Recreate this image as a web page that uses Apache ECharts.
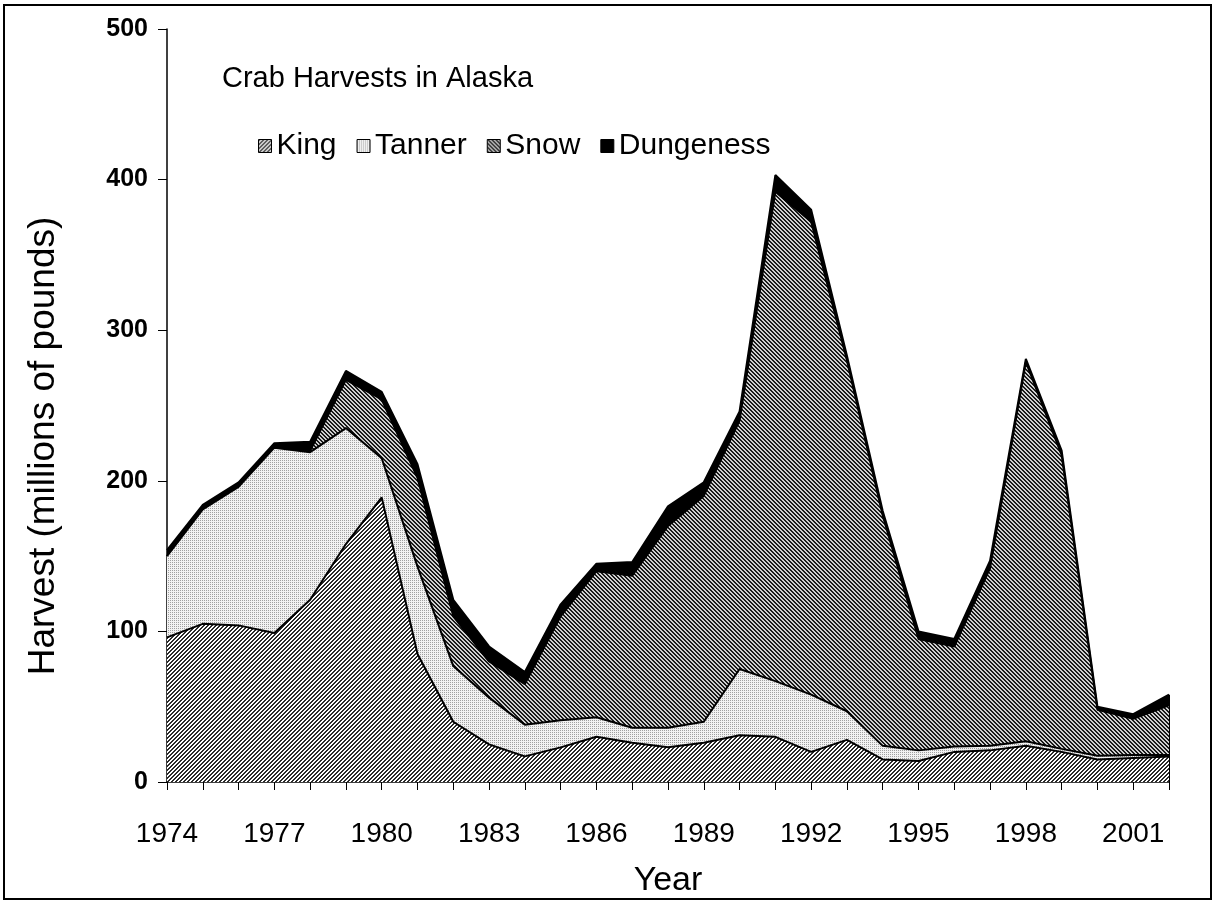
<!DOCTYPE html>
<html><head><meta charset="utf-8">
<script src="https://cdn.jsdelivr.net/npm/echarts@6/dist/echarts.min.js"></script>
<style>html,body{margin:0;padding:0;background:#fff}#c{width:1215px;height:903px}</style>
</head><body><div id="c"></div>
<script>
// ---- data (millions of pounds) ----
const years = ['1974','1975','1976','1977','1978','1979','1980','1981','1982','1983','1984','1985','1986','1987','1988','1989','1990','1991','1992','1993','1994','1995','1996','1997','1998','1999','2000','2001','2002'];
const king = [96,105,104,99,121,158,189,85,40,25,17,23,30,26,23,26,31,30,20,28,15,14,20,21,24,20,15,16,17];
const tanner = [54,76,92,123,98,77,26,58,37,31,21,18,13,10,13,14,44,37,38,19,9,7,3.5,3,3,2,2.5,2,1];
const snow = [0,0,0,0,1,32,39,59,33,24,27,69,97,101,134,150,165,325,314,233,153,74,66.5,118,252,195,30.5,24,33];
const dungeness = [4,3,3,3,6,6,5,9,11,10,8,8,5,9,13,9,6,11,8,3,3,5,5,5,2,3,2,3,7];
const seriesNames = ['King','Tanner','Snow','Dungeness'];
const titleText = 'Crab Harvests in Alaska';
const xName = 'Year';
const yName = 'Harvest (millions of pounds)';

// ---- fill patterns ----
function pattern(fn) {
  const c = document.createElement('canvas');
  c.width = 8; c.height = 8;
  const ctx = c.getContext('2d');
  for (let y = 0; y < 8; y++) for (let x = 0; x < 8; x++) {
    ctx.fillStyle = fn(x, y);
    ctx.fillRect(x, y, 1, 1);
  }
  return { image: c, repeat: 'repeat' };
}
const kingFill = pattern((x, y) => ((x + y) & 3) < 2 ? '#2a2a2a' : '#ffffff');
const tannerFill = pattern((x, y) => (x % 2 === 0 && y % 2 === 0) ? '#a0a0a0' : '#f2f2f2');
const snowFill = pattern((x, y) => ((x - y + 8) & 3) < 2 ? '#1a1a1a' : '#cfcfcf');
const fills = [kingFill, tannerFill, snowFill, '#000000'];
const values = [king, tanner, snow, dungeness];

const total = years.map((_, i) => king[i] + tanner[i] + snow[i] + dungeness[i]);
const last = years.length - 1;

const FONT = '"Liberation Sans", Arial, sans-serif';

const series = seriesNames.map((name, k) => ({
  name,
  type: 'line',
  stack: 'crab',
  data: values[k],
  symbol: 'none',
  z: 10 - k,
  lineStyle: { color: '#000', width: 2 },
  itemStyle: { color: '#000' },
  areaStyle: { color: fills[k], opacity: 1 },
  emphasis: { disabled: true },
  markLine: k === 0 ? {
    silent: true, symbol: 'none', label: { show: false },
    lineStyle: { color: '#000', width: 2, type: 'solid' },
    data: [[{ coord: [years[last], 0] }, { coord: [years[last], total[last]] }]]
  } : undefined
}));

const chart = echarts.init(document.getElementById('c'), null, { renderer: 'canvas' });
chart.setOption({
  backgroundColor: '#fff',
  animation: false,
  title: {
    text: titleText, left: 217, top: 59,
    textStyle: { fontFamily: FONT, fontSize: 29, fontWeight: 'normal', color: '#000' }
  },
  legend: {
    left: 253, top: 126, itemWidth: 13, itemHeight: 13, itemGap: 20,
    textStyle: { fontFamily: FONT, fontSize: 30, color: '#000' },
    data: seriesNames.map((n, k) => ({
      name: n, icon: 'rect',
      itemStyle: { color: fills[k], borderColor: '#000', borderWidth: 1 }
    }))
  },
  grid: { left: 167, right: 46, top: 29, bottom: 120 },
  xAxis: {
    type: 'category', data: years, boundaryGap: false,
    name: xName, nameLocation: 'middle', nameGap: 82,
    nameTextStyle: { fontFamily: FONT, fontSize: 34, color: '#000' },
    axisLine: { lineStyle: { color: '#000', width: 1.5 } },
    axisTick: { show: true, interval: 0, length: 8, lineStyle: { color: '#000', width: 1 } },
    axisLabel: { interval: 2, margin: 38, fontFamily: FONT, fontSize: 28, color: '#000' },
    splitLine: { show: false }
  },
  yAxis: {
    type: 'value', min: 0, max: 500, interval: 100,
    axisLine: { show: true, lineStyle: { color: '#000', width: 1.5 } },
    axisTick: { show: true, length: 9, lineStyle: { color: '#000', width: 1 } },
    axisLabel: { margin: 19, fontFamily: FONT, fontSize: 25, fontWeight: 'bold', color: '#000' },
    splitLine: { show: false }
  },
  graphic: [
    { type: 'rect', silent: true, z: 100,
      shape: { x: 4, y: 5, width: 1207, height: 894 },
      style: { fill: null, stroke: '#000', lineWidth: 2 } },
    { type: 'text', silent: true, x: 44, y: 446, rotation: Math.PI / 2,
      style: { text: yName, fontFamily: FONT, fontSize: 37, fill: '#000',
        textAlign: 'center', textVerticalAlign: 'middle' } }
  ],
  series
});
</script>
</body></html>
